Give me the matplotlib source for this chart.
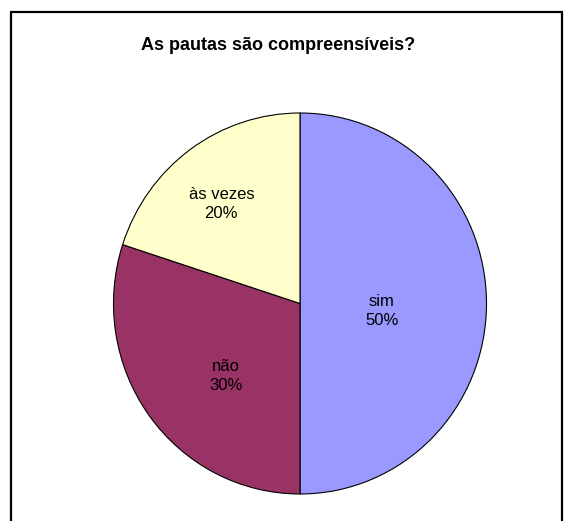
import matplotlib
matplotlib.use("Agg")
import matplotlib.pyplot as plt
import numpy as np
from matplotlib.patches import Rectangle

# dados
categorias = ["sim", "não", "às vezes"]
valores = [50, 30, 20]
cores = ["#9999FF", "#993366", "#FFFFCC"]
titulo = "As pautas são compreensíveis?"

plt.rcParams["font.family"] = ["Liberation Sans", "DejaVu Sans"]

fig = plt.figure(figsize=(5.72, 5.21), dpi=100)

# moldura do gráfico (parte de baixo cortada, como no original)
fig.patches.append(Rectangle((11 / 572, -0.05), 551 / 572, 1 - 12 / 521 + 0.05,
                             transform=fig.transFigure, fill=False,
                             edgecolor="black", linewidth=1.6))

fig.text(278 / 572, 1 - 45 / 521, titulo, ha="center", va="center",
         fontsize=13, fontweight="bold")

ax = fig.add_axes([(300 - 186.5) / 572, 27 / 521, 373 / 572, 381 / 521])
wedges, _ = ax.pie(valores, colors=cores, startangle=90, counterclock=False,
                   wedgeprops=dict(edgecolor="black", linewidth=0.8))
ax.set_aspect("auto")
ax.set_xlim(-1, 1)
ax.set_ylim(-1, 1)

# posição dos rótulos (distância do centro e desvio angular, por fatia)
dist = [0.44, 0.55, 0.67]
desloc = [-5, 8, 3]
total = sum(valores)
for w, cat, v, d, dd in zip(wedges, categorias, valores, dist, desloc):
    ang = np.deg2rad((w.theta1 + w.theta2) / 2 + dd)
    ax.text(d * np.cos(ang), d * np.sin(ang), f"{cat}\n{v / total:.0%}",
            ha="center", va="center", fontsize=12, linespacing=1.35)

fig.savefig("out.png", dpi=100)
